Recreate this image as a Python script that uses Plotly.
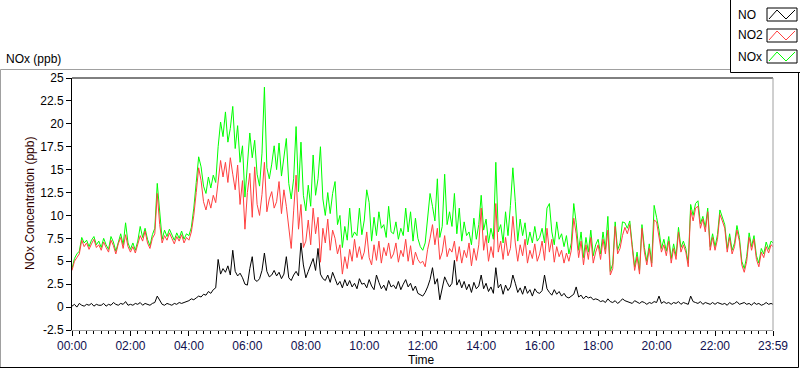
import plotly.graph_objects as go

# ---------------- data (5-minute steps) ----------------
minutes = list(range(0, 1440, 5)) + [1439]

no2 = [
    4.0, 5.0, 5.4, 5.8, 7.3, 6.6, 7.0, 6.3, 6.9, 7.4, 6.5, 6.8,          # 00
    6.2, 7.1, 6.5, 6.0, 7.3, 6.7, 5.8, 6.9, 7.6, 6.4, 7.9, 6.6,          # 01
    6.0, 6.6, 5.9, 6.8, 7.8, 7.2, 8.3, 7.0, 6.4, 7.5, 8.0, 12.4,         # 02
    9.0, 7.0, 7.8, 7.3, 8.1, 7.5, 6.9, 7.7, 7.2, 7.9, 7.0, 7.6,          # 03
    7.3, 8.2, 10.0, 12.5, 15.2, 13.8, 11.5, 10.6, 11.8, 10.8, 12.2, 11.4,  # 04
    13.5, 16.0, 14.2, 15.8, 13.6, 16.3, 14.5, 12.8, 15.5, 11.2, 13.8, 8.5,  # 05
    12.5, 14.6, 9.8, 15.3, 11.2, 10.0, 12.3, 15.8, 10.4, 11.8, 12.6, 10.8,  # 06
    11.5, 13.7, 10.2, 12.8, 11.0, 9.0, 6.4, 10.5, 14.4, 8.5, 11.2, 6.5,   # 07
    7.2, 9.5, 6.8, 10.8, 8.0, 9.8, 4.9, 8.6, 7.0, 9.6, 6.2, 8.4,          # 08
    7.5, 5.8, 6.8, 3.6, 5.5, 4.2, 6.3, 5.0, 7.4, 5.4, 6.6, 5.2,           # 09
    6.0, 8.2, 5.4, 4.6, 6.8, 5.1, 7.2, 4.8, 6.5, 5.6, 7.0, 5.3,           # 10
    5.8, 7.0, 4.9, 6.2, 5.5, 7.4, 5.0, 6.7, 4.6, 6.0, 5.2, 4.8,           # 11
    5.0, 4.4, 6.3, 7.5, 9.0, 6.8, 8.6, 5.2, 6.0, 7.8, 5.5, 6.4,           # 12
    6.0, 7.2, 5.0, 6.6, 4.8, 6.2, 5.4, 7.0, 4.5, 6.4, 5.1, 6.8,           # 13
    10.8, 6.2, 7.8, 5.0, 6.6, 5.4, 11.3, 6.0, 7.2, 5.2, 7.6, 5.6,         # 14
    6.4, 9.9, 7.0, 5.0, 6.8, 5.6, 7.4, 4.8, 6.2, 5.3, 6.9, 5.0,           # 15
    5.8, 7.2, 5.1, 8.6, 6.0, 7.4, 4.9, 6.6, 5.5, 6.2, 4.8, 5.9,           # 16
    5.0, 6.2, 9.7, 8.0, 5.4, 7.2, 4.6, 6.8, 5.2, 7.6, 4.8, 6.0,           # 17
    6.8, 5.2, 7.4, 5.8, 8.4, 3.5, 4.2, 8.8, 5.8, 6.4, 7.8, 8.7,           # 18
    8.0, 9.0, 6.2, 4.0, 5.5, 3.6, 8.6, 6.0, 4.6, 6.4, 4.4, 9.5,           # 19
    9.3, 7.8, 6.0, 6.8, 5.6, 7.2, 4.8, 6.4, 5.2, 8.2, 6.0, 6.8,           # 20
    6.0, 4.4, 10.6, 9.4, 10.8, 11.0, 8.6, 9.6, 8.2, 10.4, 6.2, 7.6,       # 21
    6.2, 7.4, 10.1, 9.4, 8.6, 6.0, 7.6, 5.8, 6.6, 8.4, 7.2, 4.6,          # 22
    3.8, 5.0, 7.6, 6.2, 7.4, 5.2, 4.4, 6.0, 5.4, 6.6, 5.9, 6.8, 6.6,      # 23 + 23:59
]

nox = [
    4.2, 5.3, 5.8, 6.1, 7.6, 7.0, 7.3, 6.6, 7.3, 7.7, 6.8, 7.2,
    6.5, 7.5, 6.8, 6.3, 7.7, 7.1, 6.1, 7.2, 8.0, 6.8, 9.2, 7.0,
    6.3, 7.0, 6.2, 7.2, 8.8, 7.6, 8.6, 7.4, 6.7, 7.9, 8.6, 13.5,
    10.0, 7.4, 8.4, 7.7, 8.5, 7.9, 7.3, 8.1, 7.5, 8.3, 7.4, 8.0,
    7.8, 8.7, 10.8, 13.6, 16.4, 15.3, 13.2, 12.4, 14.2, 13.0, 14.4, 13.6,
    17.5, 20.2, 18.6, 21.3, 18.0, 19.5, 21.9, 17.3, 19.8, 15.8, 17.6, 12.0,
    15.5, 19.0, 16.3, 18.2, 14.5, 13.2, 16.8, 24.0, 15.2, 14.0, 15.6, 17.6,
    15.0, 17.9, 14.3, 16.2, 18.4, 13.5, 11.8, 14.0, 19.7, 12.6, 18.0, 12.2,
    10.5, 13.3, 11.0, 16.6, 12.2, 14.0, 17.5, 11.8, 10.0, 12.5, 10.2, 12.4,
    13.7, 9.0, 10.0, 6.5, 8.8, 7.3, 10.8, 7.6, 8.2, 7.8, 10.8, 7.9,
    9.5, 12.8, 11.4, 7.2, 9.8, 7.8, 10.4, 8.6, 9.0, 7.6, 11.0, 8.2,
    8.0, 9.3, 7.4, 8.6, 7.8, 10.8, 8.2, 10.4, 7.2, 9.7, 7.5, 6.6,
    6.2, 7.0, 9.6, 12.4, 11.0, 9.4, 14.0, 7.6, 8.8, 14.5, 9.0, 10.4,
    8.8, 12.4, 8.0, 10.8, 7.2, 9.3, 7.8, 8.2, 6.8, 9.7, 7.4, 9.0,
    12.2, 8.4, 9.6, 7.0, 8.6, 7.4, 15.8, 8.2, 9.0, 7.0, 10.4, 7.8,
    11.1, 15.2, 11.5, 7.2, 9.6, 7.8, 9.2, 6.8, 8.2, 7.0, 8.8, 7.2,
    7.6, 8.6, 7.0, 10.8, 11.3, 8.2, 6.8, 9.3, 7.4, 8.0, 6.6, 7.8,
    5.8, 7.0, 11.3, 9.2, 6.2, 8.2, 5.4, 7.6, 6.0, 8.4, 5.6, 6.8,
    7.4, 5.8, 8.2, 6.3, 9.9, 3.9, 4.7, 9.3, 6.2, 7.0, 9.3, 9.2,
    8.6, 9.4, 6.8, 4.4, 6.0, 4.0, 9.0, 6.5, 5.0, 6.9, 4.8, 11.1,
    9.8, 8.4, 6.4, 7.4, 6.1, 7.7, 5.3, 6.9, 5.6, 8.7, 6.5, 7.2,
    6.4, 4.8, 11.2, 10.0, 11.3, 11.6, 9.1, 9.9, 8.7, 10.8, 6.6, 8.0,
    6.6, 7.9, 10.6, 9.8, 9.0, 6.4, 8.0, 6.2, 7.0, 8.9, 7.6, 5.0,
    4.2, 5.5, 8.1, 6.6, 7.8, 5.6, 4.8, 6.4, 5.8, 7.1, 6.3, 7.2, 7.0,
]

no = [
    0.1, 0.3, 0.0, 0.4, 0.2, 0.1, 0.3, 0.2, 0.4, 0.1, 0.3, 0.2,
    0.2, 0.4, 0.1, 0.3, 0.2, 0.5, 0.3, 0.2, 0.4, 0.3, 0.6, 0.2,
    0.3, 0.2, 0.4, 0.3, 0.5, 0.2, 0.4, 0.3, 0.2, 0.4, 0.5, 1.2,
    0.7, 0.3, 0.2, 0.4, 0.3, 0.2, 0.4, 0.3, 0.5, 0.4, 0.5, 0.6,
    0.7, 0.9, 0.8, 1.0, 1.2, 1.1, 1.4, 1.3, 1.7, 1.5, 1.9, 2.1,
    5.2, 3.6, 4.2, 3.8, 4.5, 3.5, 6.2, 3.9, 3.4, 3.7, 3.2, 2.5,
    2.4, 4.2, 5.5, 3.0, 2.8, 3.1, 4.0, 5.9, 3.9, 3.3, 3.5, 4.0,
    3.4, 3.8, 3.1, 3.6, 5.5, 3.2, 2.9, 3.5, 3.9, 3.4, 7.0, 4.6,
    3.2, 3.9, 4.5, 5.3, 4.0, 6.4, 3.6, 3.1, 2.9, 3.5, 2.7, 3.8,
    3.1, 2.4, 2.8, 2.1, 3.0, 2.3, 2.9, 2.2, 2.6, 2.0, 3.1, 2.5,
    2.6, 2.1, 3.0, 2.3, 1.9, 3.5, 2.7, 2.0, 2.4, 1.8, 2.9, 2.2,
    2.4, 2.0, 2.8, 1.9, 2.5, 3.0, 2.2, 2.6, 1.8, 2.3, 1.5, 1.3,
    1.2, 1.6, 2.2, 3.0, 4.3, 2.5, 3.1, 0.8, 2.0, 3.3, 2.7, 2.2,
    2.6, 5.1, 2.4, 3.0, 2.1, 2.8, 1.9, 2.5, 1.6, 2.7, 2.0, 2.3,
    3.5, 2.0, 2.6, 1.7, 2.2, 1.5, 4.3, 2.1, 2.5, 1.4, 2.4, 1.8,
    2.2, 3.5, 2.6, 1.6, 2.1, 1.4, 2.3, 1.5, 1.9, 1.2, 2.0, 1.6,
    1.5, 1.8, 3.5, 2.0, 1.6, 1.3, 1.9, 1.4, 1.7, 1.2, 1.5, 1.1,
    1.0, 1.2, 1.4, 2.2, 1.1, 1.3, 0.9, 1.2, 1.0, 1.1, 0.8, 0.9,
    0.8, 0.6, 0.7, 0.5, 0.9, 0.6, 0.5, 0.7, 0.4, 0.6, 0.9, 0.7,
    0.6, 0.5, 0.4, 0.7, 0.5, 0.4, 0.6, 0.5, 0.3, 0.5, 0.4, 0.6,
    0.5, 1.2, 0.4, 0.6, 0.4, 0.5, 0.3, 0.5, 0.4, 0.6, 0.3, 0.5,
    0.4, 0.3, 1.2, 0.6, 0.5, 0.4, 0.6, 0.3, 0.5, 0.4, 0.3, 0.5,
    0.3, 0.5, 0.4, 0.3, 0.4, 0.2, 0.5, 0.3, 0.4, 0.6, 0.3, 0.4,
    0.5, 0.3, 0.4, 0.2, 0.5, 0.3, 0.4, 0.2, 0.3, 0.5, 0.3, 0.4, 0.3,
]

tick_minutes = [0, 120, 240, 360, 480, 600, 720, 840, 960, 1080, 1200, 1320, 1439]
tick_labels = ["00:00", "02:00", "04:00", "06:00", "08:00", "10:00", "12:00",
               "14:00", "16:00", "18:00", "20:00", "22:00", "23:59"]
y_ticks = [-2.5, 0, 2.5, 5, 7.5, 10, 12.5, 15, 17.5, 20, 22.5, 25]
y_labels = ["-2.5", "0", "2.5", "5", "7.5", "10", "12.5", "15", "17.5", "20", "22.5", "25"]

series_names = ["NO", "NO2", "NOx"]
series_colors = ["#000000", "#ff4040", "#00ff00"]

# ---------------- layout geometry (pixels) ----------------
W, H = 800, 369
L, R, T, B = 72, 773, 78, 330
FONT = "Liberation Sans, Arial, sans-serif"


def px(x):
    return (x - L) / (R - L)


def py(y):
    return (B - y) / (B - T)


fig = go.Figure()
for name, vals, col in [("NOx", nox, series_colors[2]),
                        ("NO2", no2, series_colors[1]),
                        ("NO", no, series_colors[0])]:
    fig.add_trace(go.Scatter(x=minutes, y=vals, mode="lines", name=name,
                             line=dict(color=col, width=1), showlegend=False,
                             hoverinfo="skip"))

shapes = []


def line(x0, y0, x1, y1, color, width=1):
    shapes.append(dict(type="line", xref="paper", yref="paper",
                       x0=px(x0), y0=py(y0), x1=px(x1), y1=py(y1),
                       line=dict(color=color, width=width), layer="above"))


# outer frame
line(0.5, 69.5, 730, 69.5, "#a0a0a0")
line(0.5, 69.5, 0.5, 367.5, "#a0a0a0")
line(0, 367.5, 798.5, 367.5, "#000000")
line(798.5, 72, 798.5, 367.5, "#000000")
# plot area border (top black, right gray)
line(L, T, R, T, "#000000")
line(R, T, R, B, "#a0a0a0")

# legend panel
shapes.append(dict(type="rect", xref="paper", yref="paper",
                   x0=px(730), y0=py(72), x1=px(800), y1=py(0),
                   fillcolor="white", line=dict(width=0), layer="above"))
line(730.5, 0, 730.5, 72.5, "#000000")
line(730.5, 72.5, 800, 72.5, "#000000")

annotations = []
box_rows = [(8, 21), (29, 42), (50, 63)]
for (name, col), (y0, y1) in zip(zip(series_names, series_colors), box_rows):
    shapes.append(dict(type="rect", xref="paper", yref="paper",
                       x0=px(767), y0=py(y1), x1=px(797), y1=py(y0),
                       fillcolor="white", line=dict(color="#000000", width=1),
                       layer="above"))
    zig = [(769, y1 - 2), (777, y0 + 2), (786, y1 - 2), (795, y0 + 2)]
    path = "M " + " L ".join(f"{px(a)},{py(b)}" for a, b in zig)
    shapes.append(dict(type="path", xref="paper", yref="paper", path=path,
                       line=dict(color=col, width=1), layer="above"))
    annotations.append(dict(text=name, xref="paper", yref="paper",
                            x=px(736), y=py((y0 + y1) / 2), xanchor="left",
                            yanchor="middle", showarrow=False,
                            font=dict(family=FONT, size=12, color="#000000")))

annotations += [
    dict(text="NOx (ppb)", xref="paper", yref="paper", x=px(4), y=py(59),
         xanchor="left", yanchor="middle", showarrow=False,
         font=dict(family=FONT, size=12, color="#000000")),
    dict(text="NOx Concentration (ppb)", xref="paper", yref="paper",
         x=px(30), y=py(204), xanchor="center", yanchor="middle",
         textangle=-90, showarrow=False,
         font=dict(family=FONT, size=12, color="#300000")),
    dict(text="Time", xref="paper", yref="paper", x=px(421), y=py(360),
         xanchor="center", yanchor="middle", showarrow=False,
         font=dict(family=FONT, size=12, color="#000000")),
]

fig.update_layout(
    width=W, height=H,
    margin=dict(l=L, r=W - R, t=T, b=H - B, pad=0),
    paper_bgcolor="white", plot_bgcolor="white",
    shapes=shapes, annotations=annotations,
    showlegend=False,
    xaxis=dict(range=[0, 1439], tickmode="array", tickvals=tick_minutes,
               ticktext=tick_labels, ticks="outside", ticklen=5,
               tickcolor="#000000", tickwidth=1, showgrid=False,
               zeroline=False, showline=True, linecolor="#a0a0a0",
               linewidth=1,
               tickfont=dict(family=FONT, size=12, color="#101050"),
               minor=dict(tick0=0, dtick=15, ticks="outside", ticklen=3,
                          tickcolor="#000000", showgrid=False)),
    yaxis=dict(range=[-2.5, 25], tickmode="array", tickvals=y_ticks,
               ticktext=y_labels, ticks="outside", ticklen=5,
               tickcolor="#000000", showgrid=False, zeroline=False,
               showline=True, linecolor="#000000", linewidth=1,
               tickfont=dict(family=FONT, size=12, color="#000000")),
)

fig.write_html(
    "out.html",
    config={"displayModeBar": False, "staticPlot": True},
    post_script="document.body.style.margin='0';document.body.style.padding='0';"
                "document.documentElement.style.overflow='hidden';",
)
